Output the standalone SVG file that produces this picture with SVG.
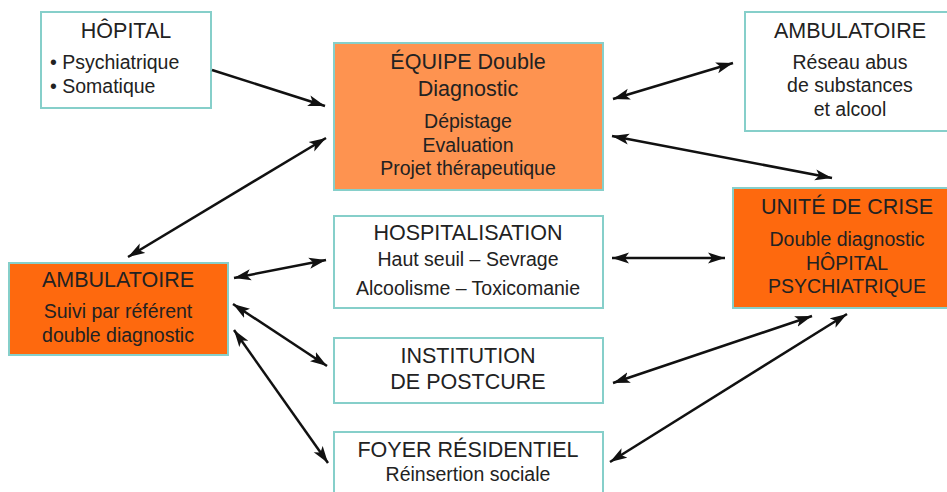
<svg xmlns="http://www.w3.org/2000/svg" width="947" height="492" viewBox="0 0 947 492">
<style>
text{font-family:"Liberation Sans",Arial,sans-serif;fill:#222;text-anchor:middle}
.t{font-size:21.5px}
.b{font-size:19.5px}
.box{fill:#fff;stroke:#86cfca;stroke-width:2}
.lo{fill:#fe9350;stroke:#86cfca;stroke-width:2}
.do{fill:#fe690e;stroke:#86cfca;stroke-width:2}
.c line{stroke:#111;stroke-width:2.5}
</style>
<defs>
<marker id="ah" markerUnits="userSpaceOnUse" markerWidth="18" markerHeight="12" refX="17" refY="6" orient="auto-start-reverse">
<path d="M0,0.5 L17,6 L0,11.5 L4,6 z" fill="#111"/>
</marker>
</defs>
<rect width="947" height="492" fill="#fff"/>
<g id="hopital">
<rect class="box" x="41" y="12" width="170" height="96"/>
<text class="t" x="126" y="38">HÔPITAL</text>
<text class="b" x="50" y="69" style="text-anchor:start">• Psychiatrique</text>
<text class="b" x="50" y="93" style="text-anchor:start">• Somatique</text>
</g>
<g id="equipe">
<rect class="lo" x="334" y="43" width="269" height="147"/>
<text class="t" x="468" y="69">ÉQUIPE Double</text>
<text class="t" x="468" y="96">Diagnostic</text>
<text class="b" x="468" y="128">Dépistage</text>
<text class="b" x="468" y="152">Evaluation</text>
<text class="b" x="468" y="175">Projet thérapeutique</text>
</g>
<g id="ambulatoire-reseau">
<rect class="box" x="745" y="12" width="210" height="119"/>
<text class="t" x="850" y="38">AMBULATOIRE</text>
<text class="b" x="850" y="69">Réseau abus</text>
<text class="b" x="850" y="92">de substances</text>
<text class="b" x="850" y="116">et alcool</text>
</g>
<g id="unite-crise">
<rect class="do" x="733" y="188" width="222" height="120"/>
<text class="t" x="847" y="214">UNITÉ DE CRISE</text>
<text class="b" x="847" y="246">Double diagnostic</text>
<text class="b" x="847" y="270">HÔPITAL</text>
<text class="b" x="847" y="293">PSYCHIATRIQUE</text>
</g>
<g id="ambulatoire-suivi">
<rect class="do" x="9" y="263" width="219" height="92"/>
<text class="t" x="118" y="287">AMBULATOIRE</text>
<text class="b" x="118" y="318">Suivi par référent</text>
<text class="b" x="118" y="342">double diagnostic</text>
</g>
<g id="hospitalisation">
<rect class="box" x="334" y="216" width="269" height="92"/>
<text class="t" x="468" y="240">HOSPITALISATION</text>
<text class="b" x="468" y="266">Haut seuil – Sevrage</text>
<text class="b" x="468" y="295">Alcoolisme – Toxicomanie</text>
</g>
<g id="institution">
<rect class="box" x="334" y="338" width="269" height="65"/>
<text class="t" x="468" y="363">INSTITUTION</text>
<text class="t" x="468" y="389">DE POSTCURE</text>
</g>
<g id="foyer">
<rect class="box" x="334" y="432" width="269" height="70"/>
<text class="t" x="468" y="457">FOYER RÉSIDENTIEL</text>
<text class="b" x="468" y="481">Réinsertion sociale</text>
</g>
<g id="connectors" class="c">
<line x1="212" y1="70" x2="325" y2="106" marker-end="url(#ah)"/>
<line x1="613" y1="99" x2="733" y2="63" marker-start="url(#ah)" marker-end="url(#ah)"/>
<line x1="612" y1="136" x2="832" y2="178" marker-start="url(#ah)" marker-end="url(#ah)"/>
<line x1="326" y1="138" x2="128" y2="257" marker-start="url(#ah)" marker-end="url(#ah)"/>
<line x1="234" y1="278" x2="326" y2="260" marker-start="url(#ah)" marker-end="url(#ah)"/>
<line x1="233" y1="304" x2="327" y2="366" marker-start="url(#ah)" marker-end="url(#ah)"/>
<line x1="234" y1="330" x2="328" y2="463" marker-start="url(#ah)" marker-end="url(#ah)"/>
<line x1="612" y1="258" x2="725" y2="258" marker-start="url(#ah)" marker-end="url(#ah)"/>
<line x1="613" y1="383" x2="812" y2="316" marker-start="url(#ah)" marker-end="url(#ah)"/>
<line x1="610" y1="462" x2="847" y2="314" marker-start="url(#ah)" marker-end="url(#ah)"/>
</g>
</svg>
